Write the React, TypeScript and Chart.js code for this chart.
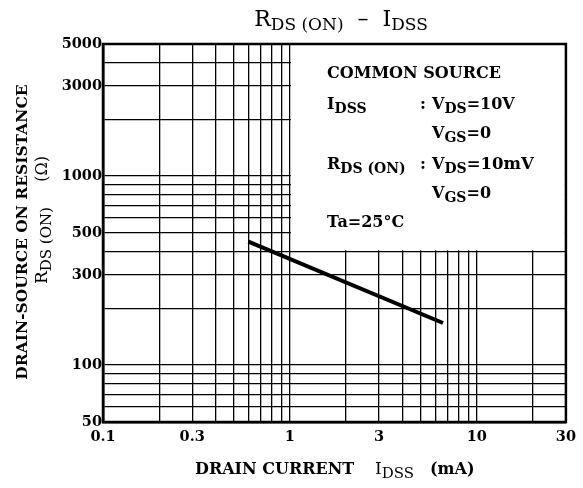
import React, { useEffect, useRef } from "react";
import { Chart, registerables } from "chart.js";

Chart.register(...registerables);

// Data
const idssMA = [0.6, 6.6];
const rdsOnOhm = [450, 167];

const xGridValues = [0.1, 0.2, 0.3, 0.4, 0.5, 0.6, 0.7, 0.8, 0.9, 1, 2, 3, 4, 5, 6, 7, 8, 9, 10, 20, 30];
const xTickLabels = [0.1, 0.3, 1, 3, 10, 30];
const yGridValues = [50, 60, 70, 80, 90, 100, 200, 300, 400, 500, 600, 700, 800, 900, 1000, 2000, 3000, 4000, 5000];
const yTickLabels = [50, 100, 300, 500, 1000, 3000, 5000];

const SERIF = '"DejaVu Serif", "Liberation Serif", serif';

type Run = [string, number, boolean, number];

function runsWidth(ctx: CanvasRenderingContext2D, runs: Run[]) {
  let w = 0;
  for (const [t, s, b] of runs) {
    ctx.font = `${b ? "bold " : ""}${s}px ${SERIF}`;
    w += ctx.measureText(t).width;
  }
  return w;
}

function drawRuns(ctx: CanvasRenderingContext2D, x: number, y: number, runs: Run[]) {
  let cx = x;
  ctx.textAlign = "left";
  ctx.textBaseline = "alphabetic";
  ctx.fillStyle = "#000";
  for (const [t, s, b, dy] of runs) {
    ctx.font = `${b ? "bold " : ""}${s}px ${SERIF}`;
    ctx.fillText(t, cx, y + dy);
    cx += ctx.measureText(t).width;
  }
}

const annotations = {
  id: "annotations",
  beforeDatasetsDraw(chart: any) {
    const { ctx, chartArea, scales } = chart;
    const x = scales.x;
    const y = scales.y;
    const bx = x.getPixelForValue(1);
    const by = y.getPixelForValue(400);
    ctx.save();
    ctx.fillStyle = "#fff";
    ctx.fillRect(bx + 1, chartArea.top + 1, chartArea.right - bx - 2, by - chartArea.top - 2);

    const L = 327;
    const C = 420;
    const V = 432;
    drawRuns(ctx, L, 78, [["COMMON SOURCE", 16, true, 0]]);
    drawRuns(ctx, L, 109, [["I", 16, true, 0], ["DSS", 14, true, 4]]);
    drawRuns(ctx, C, 109, [[":", 16, true, 0]]);
    drawRuns(ctx, V, 109, [["V", 16, true, 0], ["DS", 14, true, 4], ["=10V", 16, true, 0]]);
    drawRuns(ctx, V, 138, [["V", 16, true, 0], ["GS", 14, true, 4], ["=0", 16, true, 0]]);
    drawRuns(ctx, L, 169, [["R", 16, true, 0], ["DS (ON)", 14, true, 4]]);
    drawRuns(ctx, C, 169, [[":", 16, true, 0]]);
    drawRuns(ctx, V, 169, [["V", 16, true, 0], ["DS", 14, true, 4], ["=10mV", 16.5, true, 0]]);
    drawRuns(ctx, V, 198, [["V", 16, true, 0], ["GS", 14, true, 4], ["=0", 16, true, 0]]);
    drawRuns(ctx, L, 227, [["Ta=25°C", 16, true, 0]]);
    ctx.restore();
  },
  afterDraw(chart: any) {
    const { ctx, chartArea } = chart;
    ctx.save();
    // frame
    ctx.strokeStyle = "#000";
    ctx.lineWidth = 2.5;
    ctx.strokeRect(chartArea.left, chartArea.top, chartArea.right - chartArea.left, chartArea.bottom - chartArea.top);

    // title
    const titleRuns: Run[] = [
      ["R", 22, false, 0],
      ["DS (ON)", 17, false, 4],
      ["  –  ", 22, false, 0],
      ["I", 22, false, 0],
      ["DSS", 17, false, 4],
    ];
    const tw = runsWidth(ctx, titleRuns);
    drawRuns(ctx, 341 - tw / 2, 26, titleRuns);

    // x axis title
    drawRuns(ctx, 195, 474, [["DRAIN CURRENT", 16, true, 0]]);
    drawRuns(ctx, 375, 474, [["I", 17, false, 0], ["DSS", 15, false, 4]]);
    drawRuns(ctx, 430, 474, [["(mA)", 16, true, 0]]);

    // y axis title
    ctx.save();
    ctx.translate(27, 232);
    ctx.rotate(-Math.PI / 2);
    const l1: Run[] = [["DRAIN-SOURCE ON RESISTANCE", 15.5, true, 0]];
    drawRuns(ctx, -runsWidth(ctx, l1) / 2, 0, l1);
    ctx.restore();

    ctx.save();
    ctx.translate(47, 220);
    ctx.rotate(-Math.PI / 2);
    const l2: Run[] = [["R", 17, false, 0], ["DS (ON)", 15, false, 4], ["     (Ω)", 16, false, 0]];
    drawRuns(ctx, -runsWidth(ctx, l2) / 2, 0, l2);
    ctx.restore();

    ctx.restore();
  },
};

export default function App() {
  const ref = useRef<HTMLCanvasElement | null>(null);

  useEffect(() => {
    if (!ref.current) return;
    const chart = new Chart(ref.current, {
      type: "line",
      data: {
        datasets: [
          {
            data: idssMA.map((v, i) => ({ x: v, y: rdsOnOhm[i] })),
            borderColor: "#000",
            borderWidth: 4,
            pointRadius: 0,
            fill: false,
            tension: 0,
          },
        ],
      },
      options: {
        animation: false,
        responsive: false,
        events: [],
        layout: { padding: { top: 44, right: 17, left: 0, bottom: 0 } },
        plugins: {
          legend: { display: false },
          tooltip: { enabled: false },
          title: { display: false },
        },
        scales: {
          x: {
            type: "logarithmic",
            min: 0.1,
            max: 30,
            afterBuildTicks: (scale: any) => {
              scale.ticks = xGridValues.map((v) => ({ value: v }));
            },
            afterFit: (scale: any) => {
              scale.height = 66;
            },
            ticks: {
              autoSkip: false,
              maxRotation: 0,
              padding: 7,
              color: "#000",
              font: { family: SERIF, size: 14.5, weight: "bold" },
              callback: (value: any) => (xTickLabels.includes(Number(value)) ? String(value) : ""),
            },
            grid: { color: "#000", lineWidth: 1.3, drawTicks: false },
            border: { display: true, color: "#000", width: 2.5 },
          },
          y: {
            type: "logarithmic",
            min: 50,
            max: 5000,
            afterBuildTicks: (scale: any) => {
              scale.ticks = yGridValues.map((v) => ({ value: v }));
            },
            afterFit: (scale: any) => {
              scale.width = 103;
            },
            ticks: {
              autoSkip: false,
              padding: 1,
              color: "#000",
              font: { family: SERIF, size: 14.5, weight: "bold" },
              callback: (value: any) => (yTickLabels.includes(Number(value)) ? String(value) : ""),
            },
            grid: { color: "#000", lineWidth: 1.3, drawTicks: false },
            border: { display: true, color: "#000", width: 2.5 },
          },
        },
      },
      plugins: [annotations],
    } as any);
    return () => chart.destroy();
  }, []);

  return (
    <div style={{ position: "absolute", left: 0, top: 0, width: 583, height: 488, background: "#fff" }}>
      <canvas ref={ref} width={583} height={488} style={{ width: 583, height: 488, display: "block" }} />
    </div>
  );
}
